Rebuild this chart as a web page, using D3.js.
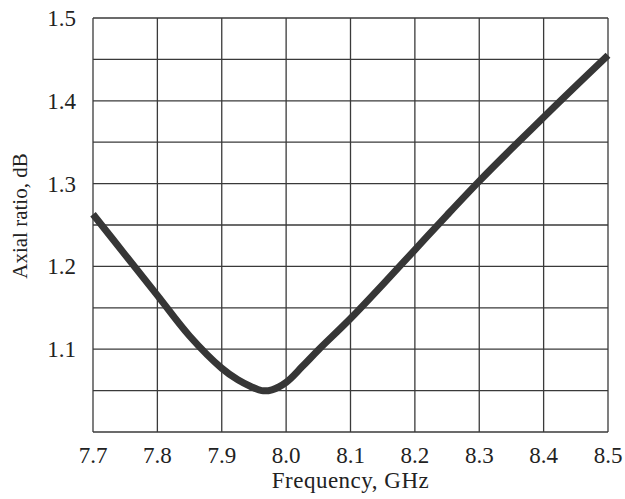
<!DOCTYPE html>
<html>
<head>
<meta charset="utf-8">
<script src="https://cdn.jsdelivr.net/npm/d3@7"></script>
<style>
  body { margin: 0; background: #fff; }
  text { font-family: "Liberation Serif", "DejaVu Serif", serif; fill: #222; }
</style>
</head>
<body>
<svg id="chart" width="625" height="499"></svg>
<script>
// frequency (GHz) and axial ratio (dB)
const freq = [7.7, 7.75, 7.8, 7.85, 7.9, 7.925, 7.945, 7.962, 7.978, 8.0, 8.025, 8.05, 8.1, 8.15, 8.2, 8.25, 8.3, 8.35, 8.4, 8.45, 8.5];
const axialRatio = [1.263, 1.214, 1.165, 1.116, 1.077, 1.063, 1.055, 1.050, 1.051, 1.060, 1.079, 1.099, 1.137, 1.178, 1.220, 1.262, 1.303, 1.342, 1.380, 1.418, 1.455];

const xTicks = [7.7, 7.8, 7.9, 8.0, 8.1, 8.2, 8.3, 8.4, 8.5];
const yTicks = [1.1, 1.2, 1.3, 1.4, 1.5];
const yGrid = [1.0, 1.05, 1.1, 1.15, 1.2, 1.25, 1.3, 1.35, 1.4, 1.45, 1.5];

const margin = {top: 18, right: 17, bottom: 67, left: 93};
const width = 625, height = 499;

const svg = d3.select('#chart');

const x = d3.scaleLinear()
  .domain([7.7, 8.5])
  .range([margin.left, width - margin.right]);

const y = d3.scaleLinear()
  .domain([1.0, 1.5])
  .range([height - margin.bottom, margin.top]);

const gridColor = '#3a3a3a';

// vertical grid
svg.append('g')
  .selectAll('line')
  .data(xTicks)
  .join('line')
  .attr('x1', d => x(d)).attr('x2', d => x(d))
  .attr('y1', y(1.0)).attr('y2', y(1.5))
  .attr('stroke', gridColor)
  .attr('stroke-width', 1.3);

// horizontal grid
svg.append('g')
  .selectAll('line')
  .data(yGrid)
  .join('line')
  .attr('x1', x(7.7)).attr('x2', x(8.5))
  .attr('y1', d => y(d)).attr('y2', d => y(d))
  .attr('stroke', gridColor)
  .attr('stroke-width', 1.3);

// x tick labels
svg.append('g')
  .selectAll('text')
  .data(xTicks)
  .join('text')
  .attr('x', d => x(d))
  .attr('y', y(1.0) + 31)
  .attr('text-anchor', 'middle')
  .attr('font-size', 23)
  .text(d => d.toFixed(1));

// y tick labels
svg.append('g')
  .selectAll('text')
  .data(yTicks)
  .join('text')
  .attr('x', margin.left - 17)
  .attr('y', d => y(d) + 8)
  .attr('text-anchor', 'end')
  .attr('font-size', 23)
  .text(d => d.toFixed(1));

// axis titles
svg.append('text')
  .attr('x', (x(7.7) + x(8.5)) / 2)
  .attr('y', y(1.0) + 56)
  .attr('text-anchor', 'middle')
  .attr('font-size', 23)
  .attr('letter-spacing', 0.5)
  .text('Frequency, GHz');

svg.append('text')
  .attr('transform', `translate(27, 216) rotate(-90)`)
  .attr('text-anchor', 'middle')
  .attr('font-size', 21)
  .text('Axial ratio, dB');

// curve
const data = freq.map((f, i) => ({f: f, v: axialRatio[i]}));
const line = d3.line()
  .x(d => x(d.f))
  .y(d => y(d.v))
  .curve(d3.curveCatmullRom);

svg.append('path')
  .attr('d', line(data))
  .attr('fill', 'none')
  .attr('stroke', '#363636')
  .attr('stroke-width', 7)
  .attr('stroke-linecap', 'butt');
</script>
</body>
</html>
